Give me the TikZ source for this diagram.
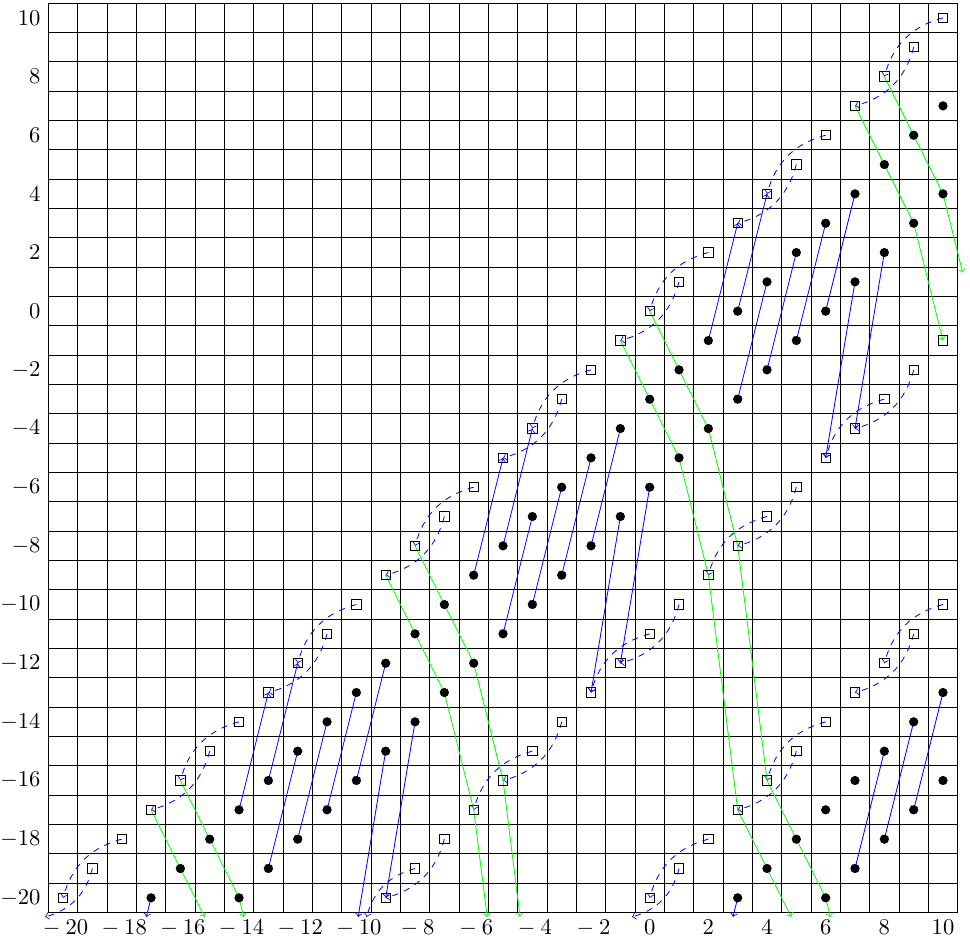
\documentclass[11pt,tikz,border=0pt]{standalone}
\usepackage{amsmath}
\usepackage{tikz}

\begin{document}
\begin{tikzpicture}[scale=0.5,
    hop/.style={->, blue, dashed},
    lift/.style={->, blue},
    orbit/.style={->, green}]
        \useasboundingbox (-22.15,-21.40) rectangle (10.92,10.61);

        \draw[shift={(0.5,0.5)}] (-21,-21) grid (10,10);

        \foreach \y in {-20,-18,...,10} {
          \node[left] (ly\y) at (-20.5,\y) {$\y$};
        }
        \foreach \x in {-20,-18,...,10} {
          \node[below] (lx\x) at (\x,-20.5) {${}\x$};
        }

        % squares q, r, t and dots u, v, w, z on the lines y = x - off
        \foreach \band/\off/\lo in {q/0/-20, r/11/-9, t/20/0, u/3/-17, v/6/-14, w/23/3, z/26/6} {
          \foreach \x in {\lo,...,10} {
            \coordinate (\band\x) at (\x, \x-\off);
          }
        }

        % ends cut at the border
        \coordinate (oq8) at (10.67, 1.32);
        \coordinate (oq0) at (6.16, -20.65);
        \coordinate (oq-1) at (4.825, -20.65);
        \coordinate (oq-8) at (-4.42, -20.65);
        \coordinate (oq-9) at (-5.54, -20.65);
        \coordinate (oq-16) at (-13.84, -20.65);
        \coordinate (oq-17) at (-15.175, -20.65);
        \coordinate (ou-17) at (-17.16, -20.65);
        \coordinate (ow3) at (2.84, -20.65);
        \coordinate (ov-9) at (-9.94, -20.65);
        \coordinate (oq-19) at (-20.61, -20.65);
        \coordinate (or-8) at (-9.65, -20.65);
        \coordinate (ot1) at (-0.6, -20.65);

        \foreach \x [evaluate=\x as \nx using int(\x-2)] in {10,6,...,-18} {
          \draw[hop] (q\x) to[bend right] (q\nx);
        }
        \foreach \x [evaluate=\x as \nx using int(\x-2)] in {9,5,...,-15} {
          \draw[hop] (q\x) to[bend left] (q\nx);
        }
        \draw[hop] (q-19) to[bend left] (oq-19);

        \foreach \x [evaluate=\x as \nx using int(\x-2)] in {9,5,...,-7} {
          \draw[hop] (r\x) to[bend left] (r\nx);
        }
        \foreach \x [evaluate=\x as \nx using int(\x-2)] in {8,4,...,-4} {
          \draw[hop] (r\x) to[bend right] (r\nx);
        }
        \draw[hop] (r-8) to[bend right] (or-8);

        \foreach \x [evaluate=\x as \nx using int(\x-2)] in {10,6,2} {
          \draw[hop] (t\x) to[bend right] (t\nx);
        }
        \foreach \x [evaluate=\x as \nx using int(\x-2)] in {9,5} {
          \draw[hop] (t\x) to[bend left] (t\nx);
        }
        \draw[hop] (t1) to[bend left] (ot1);

        \foreach \x [evaluate=\x as \nx using int(\x+1)] in {3,2,-5,-6,-13,-14} {
          \draw[lift] (u\x) -- (q\nx);
        }
        \foreach \x [evaluate=\x as \nx using int(\x-1)] in {7,6,5,4,-1,-2,-3,-4,-9,-10,-11,-12} {
          \draw[lift] (u\x) -- (v\nx);
        }
        \foreach \x [evaluate=\x as \nx using int(\x-1)] in {8,7,0,-1,-8} {
          \draw[lift] (v\x) -- (r\nx);
        }
        \foreach \x [evaluate=\x as \nx using int(\x-1)] in {10,9,8} {
          \draw[lift] (w\x) -- (z\nx);
        }
        \draw[lift] (u-17) -- (ou-17);
        \draw[lift] (v-9) -- (ov-9);
        \draw[lift] (w3) -- (ow3);

        \draw[orbit] (q8) -- (u9) -- (v10) -- (oq8);
        \draw[orbit] (q7) -- (u8) -- (v9) -- (r10);
        \draw[orbit] (q0) -- (u1) -- (v2) -- (r3) -- (t4) -- (w5) -- (z6) -- (oq0);
        \draw[orbit] (q-1) -- (u0) -- (v1) -- (r2) -- (t3) -- (w4) -- (oq-1);
        \draw[orbit] (q-8) -- (u-7) -- (v-6) -- (r-5) -- (oq-8);
        \draw[orbit] (q-9) -- (u-8) -- (v-7) -- (r-6) -- (oq-9);
        \draw[orbit] (q-16) -- (u-15) -- (v-14) -- (oq-16);
        \draw[orbit] (q-17) -- (u-16) -- (oq-17);

        \foreach \band/\lo in {q/-20, r/-9, t/0} {
          \foreach \x in {\lo,...,10} {
            \draw (\band\x) +(-4.5pt,-4.5pt) rectangle +(4.5pt,4.5pt);
          }
        }
        \foreach \band/\lo in {u/-17, v/-14, w/3, z/6} {
          \foreach \x in {\lo,...,10} {
            \fill (\band\x) circle (4.5pt);
          }
        }
      \end{tikzpicture}
\end{document}
